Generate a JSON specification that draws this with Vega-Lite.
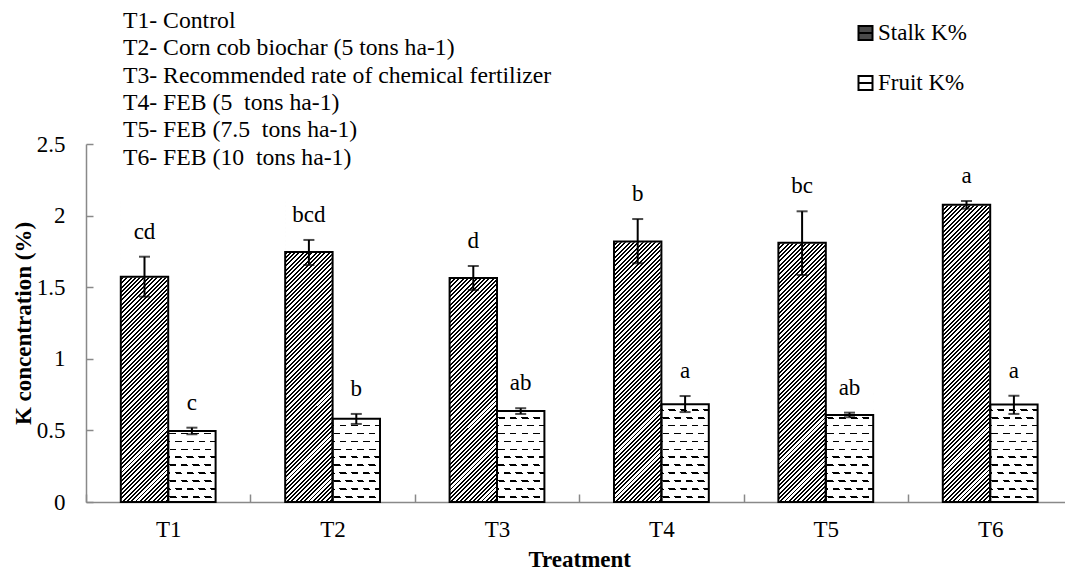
{
"$schema": "https://vega.github.io/schema/vega-lite/v6.json",
"width": 979,
"height": 358,
"autosize": {"type": "none"},
"padding": {"left": 86, "top": 144, "right": 0, "bottom": 70},
"background": "white",
"config": {"view": {"stroke": null}, "font": "Liberation Serif", "axis": {"labelFont": "Liberation Serif", "titleFont": "Liberation Serif"}, "legend": {"labelFont": "Liberation Serif"}},
"title": {"text": ["T1- Control", "T2- Corn cob biochar (5 tons ha-1)", "T3- Recommended rate of chemical fertilizer", "T4- FEB (5\u00a0 tons ha-1)", "T5- FEB (7.5\u00a0 tons ha-1)", "T6- FEB (10\u00a0 tons ha-1)"], "anchor": "start", "frame": "group", "orient": "top", "baseline": "top", "offset": -148, "dx": 37, "font": "Liberation Serif", "fontSize": 23.7, "fontWeight": "normal", "color": "black", "lineHeight": 27.4},
"data": {"values": [
{"t":"T1","s":"Stalk K%","k":1.573,"lo":1.434,"hi":1.713,"lab":"cd"},
{"t":"T1","s":"Fruit K%","k":0.496,"lo":0.473,"hi":0.519,"lab":"c"},
{"t":"T2","s":"Stalk K%","k":1.746,"lo":1.655,"hi":1.830,"lab":"bcd"},
{"t":"T2","s":"Fruit K%","k":0.582,"lo":0.545,"hi":0.615,"lab":"b"},
{"t":"T3","s":"Stalk K%","k":1.564,"lo":1.480,"hi":1.648,"lab":"d"},
{"t":"T3","s":"Fruit K%","k":0.635,"lo":0.615,"hi":0.655,"lab":"ab"},
{"t":"T4","s":"Stalk K%","k":1.820,"lo":1.667,"hi":1.976,"lab":"b"},
{"t":"T4","s":"Fruit K%","k":0.682,"lo":0.628,"hi":0.740,"lab":"a"},
{"t":"T5","s":"Stalk K%","k":1.811,"lo":1.585,"hi":2.030,"lab":"bc"},
{"t":"T5","s":"Fruit K%","k":0.608,"lo":0.592,"hi":0.624,"lab":"ab"},
{"t":"T6","s":"Stalk K%","k":2.076,"lo":2.048,"hi":2.102,"lab":"a"},
{"t":"T6","s":"Fruit K%","k":0.680,"lo":0.615,"hi":0.742,"lab":"a"}
]},
"encoding": {
"x": {"field": "t", "type": "nominal", "sort": ["T1","T2","T3","T4","T5","T6"], "scale": {"domain": ["T1","T2","T3","T4","T5","T6"], "range": [0, 986.4], "paddingInner": 0, "paddingOuter": 0},
 "axis": {"title": "Treatment", "titleFont": "Liberation Serif", "titleFontWeight": "bold", "titleFontSize": 23, "titleColor": "black", "titlePadding": 7, "labelAngle": 0, "labelFont": "Liberation Serif", "labelFontSize": 23, "labelColor": "black", "labelPadding": 24, "tickBand": "extent", "tickSize": -8, "tickColor": "#898989", "tickWidth": 1.5, "domainColor": "#898989", "domainWidth": 1.5}},
"xOffset": {"field": "s", "type": "nominal", "sort": ["Stalk K%","Fruit K%"], "scale": {"domain": ["Stalk K%","Fruit K%"], "paddingInner": 0, "paddingOuter": 0.734}}
},
"layer": [
{"transform": [{"filter": "datum.s === 'Stalk K%'"}],
 "mark": {"type": "bar", "fill": {"gradient": "linear", "x1": 0, "y1": 0, "x2": 0.21995, "y2": 1.39537, "stops": [
{"offset":0,"color":"#000"},{"offset":0.0045,"color":"#000"},{"offset":0.0045,"color":"#fff"},{"offset":0.01,"color":"#fff"},
{"offset":0.01,"color":"#000"},{"offset":0.0145,"color":"#000"},{"offset":0.0145,"color":"#fff"},{"offset":0.02,"color":"#fff"},
{"offset":0.02,"color":"#000"},{"offset":0.0245,"color":"#000"},{"offset":0.0245,"color":"#fff"},{"offset":0.03,"color":"#fff"},
{"offset":0.03,"color":"#000"},{"offset":0.0345,"color":"#000"},{"offset":0.0345,"color":"#fff"},{"offset":0.04,"color":"#fff"},
{"offset":0.04,"color":"#000"},{"offset":0.0445,"color":"#000"},{"offset":0.0445,"color":"#fff"},{"offset":0.05,"color":"#fff"},
{"offset":0.05,"color":"#000"},{"offset":0.0545,"color":"#000"},{"offset":0.0545,"color":"#fff"},{"offset":0.06,"color":"#fff"},
{"offset":0.06,"color":"#000"},{"offset":0.0645,"color":"#000"},{"offset":0.0645,"color":"#fff"},{"offset":0.07,"color":"#fff"},
{"offset":0.07,"color":"#000"},{"offset":0.0745,"color":"#000"},{"offset":0.0745,"color":"#fff"},{"offset":0.08,"color":"#fff"},
{"offset":0.08,"color":"#000"},{"offset":0.0845,"color":"#000"},{"offset":0.0845,"color":"#fff"},{"offset":0.09,"color":"#fff"},
{"offset":0.09,"color":"#000"},{"offset":0.0945,"color":"#000"},{"offset":0.0945,"color":"#fff"},{"offset":0.10,"color":"#fff"},
{"offset":0.10,"color":"#000"},{"offset":0.1045,"color":"#000"},{"offset":0.1045,"color":"#fff"},{"offset":0.11,"color":"#fff"},
{"offset":0.11,"color":"#000"},{"offset":0.1145,"color":"#000"},{"offset":0.1145,"color":"#fff"},{"offset":0.12,"color":"#fff"},
{"offset":0.12,"color":"#000"},{"offset":0.1245,"color":"#000"},{"offset":0.1245,"color":"#fff"},{"offset":0.13,"color":"#fff"},
{"offset":0.13,"color":"#000"},{"offset":0.1345,"color":"#000"},{"offset":0.1345,"color":"#fff"},{"offset":0.14,"color":"#fff"},
{"offset":0.14,"color":"#000"},{"offset":0.1445,"color":"#000"},{"offset":0.1445,"color":"#fff"},{"offset":0.15,"color":"#fff"},
{"offset":0.15,"color":"#000"},{"offset":0.1545,"color":"#000"},{"offset":0.1545,"color":"#fff"},{"offset":0.16,"color":"#fff"},
{"offset":0.16,"color":"#000"},{"offset":0.1645,"color":"#000"},{"offset":0.1645,"color":"#fff"},{"offset":0.17,"color":"#fff"},
{"offset":0.17,"color":"#000"},{"offset":0.1745,"color":"#000"},{"offset":0.1745,"color":"#fff"},{"offset":0.18,"color":"#fff"},
{"offset":0.18,"color":"#000"},{"offset":0.1845,"color":"#000"},{"offset":0.1845,"color":"#fff"},{"offset":0.19,"color":"#fff"},
{"offset":0.19,"color":"#000"},{"offset":0.1945,"color":"#000"},{"offset":0.1945,"color":"#fff"},{"offset":0.20,"color":"#fff"},
{"offset":0.20,"color":"#000"},{"offset":0.2045,"color":"#000"},{"offset":0.2045,"color":"#fff"},{"offset":0.21,"color":"#fff"},
{"offset":0.21,"color":"#000"},{"offset":0.2145,"color":"#000"},{"offset":0.2145,"color":"#fff"},{"offset":0.22,"color":"#fff"},
{"offset":0.22,"color":"#000"},{"offset":0.2245,"color":"#000"},{"offset":0.2245,"color":"#fff"},{"offset":0.23,"color":"#fff"},
{"offset":0.23,"color":"#000"},{"offset":0.2345,"color":"#000"},{"offset":0.2345,"color":"#fff"},{"offset":0.24,"color":"#fff"},
{"offset":0.24,"color":"#000"},{"offset":0.2445,"color":"#000"},{"offset":0.2445,"color":"#fff"},{"offset":0.25,"color":"#fff"},
{"offset":0.25,"color":"#000"},{"offset":0.2545,"color":"#000"},{"offset":0.2545,"color":"#fff"},{"offset":0.26,"color":"#fff"},
{"offset":0.26,"color":"#000"},{"offset":0.2645,"color":"#000"},{"offset":0.2645,"color":"#fff"},{"offset":0.27,"color":"#fff"},
{"offset":0.27,"color":"#000"},{"offset":0.2745,"color":"#000"},{"offset":0.2745,"color":"#fff"},{"offset":0.28,"color":"#fff"},
{"offset":0.28,"color":"#000"},{"offset":0.2845,"color":"#000"},{"offset":0.2845,"color":"#fff"},{"offset":0.29,"color":"#fff"},
{"offset":0.29,"color":"#000"},{"offset":0.2945,"color":"#000"},{"offset":0.2945,"color":"#fff"},{"offset":0.30,"color":"#fff"},
{"offset":0.30,"color":"#000"},{"offset":0.3045,"color":"#000"},{"offset":0.3045,"color":"#fff"},{"offset":0.31,"color":"#fff"},
{"offset":0.31,"color":"#000"},{"offset":0.3145,"color":"#000"},{"offset":0.3145,"color":"#fff"},{"offset":0.32,"color":"#fff"},
{"offset":0.32,"color":"#000"},{"offset":0.3245,"color":"#000"},{"offset":0.3245,"color":"#fff"},{"offset":0.33,"color":"#fff"},
{"offset":0.33,"color":"#000"},{"offset":0.3345,"color":"#000"},{"offset":0.3345,"color":"#fff"},{"offset":0.34,"color":"#fff"},
{"offset":0.34,"color":"#000"},{"offset":0.3445,"color":"#000"},{"offset":0.3445,"color":"#fff"},{"offset":0.35,"color":"#fff"},
{"offset":0.35,"color":"#000"},{"offset":0.3545,"color":"#000"},{"offset":0.3545,"color":"#fff"},{"offset":0.36,"color":"#fff"},
{"offset":0.36,"color":"#000"},{"offset":0.3645,"color":"#000"},{"offset":0.3645,"color":"#fff"},{"offset":0.37,"color":"#fff"},
{"offset":0.37,"color":"#000"},{"offset":0.3745,"color":"#000"},{"offset":0.3745,"color":"#fff"},{"offset":0.38,"color":"#fff"},
{"offset":0.38,"color":"#000"},{"offset":0.3845,"color":"#000"},{"offset":0.3845,"color":"#fff"},{"offset":0.39,"color":"#fff"},
{"offset":0.39,"color":"#000"},{"offset":0.3945,"color":"#000"},{"offset":0.3945,"color":"#fff"},{"offset":0.40,"color":"#fff"},
{"offset":0.40,"color":"#000"},{"offset":0.4045,"color":"#000"},{"offset":0.4045,"color":"#fff"},{"offset":0.41,"color":"#fff"},
{"offset":0.41,"color":"#000"},{"offset":0.4145,"color":"#000"},{"offset":0.4145,"color":"#fff"},{"offset":0.42,"color":"#fff"},
{"offset":0.42,"color":"#000"},{"offset":0.4245,"color":"#000"},{"offset":0.4245,"color":"#fff"},{"offset":0.43,"color":"#fff"},
{"offset":0.43,"color":"#000"},{"offset":0.4345,"color":"#000"},{"offset":0.4345,"color":"#fff"},{"offset":0.44,"color":"#fff"},
{"offset":0.44,"color":"#000"},{"offset":0.4445,"color":"#000"},{"offset":0.4445,"color":"#fff"},{"offset":0.45,"color":"#fff"},
{"offset":0.45,"color":"#000"},{"offset":0.4545,"color":"#000"},{"offset":0.4545,"color":"#fff"},{"offset":0.46,"color":"#fff"},
{"offset":0.46,"color":"#000"},{"offset":0.4645,"color":"#000"},{"offset":0.4645,"color":"#fff"},{"offset":0.47,"color":"#fff"},
{"offset":0.47,"color":"#000"},{"offset":0.4745,"color":"#000"},{"offset":0.4745,"color":"#fff"},{"offset":0.48,"color":"#fff"},
{"offset":0.48,"color":"#000"},{"offset":0.4845,"color":"#000"},{"offset":0.4845,"color":"#fff"},{"offset":0.49,"color":"#fff"},
{"offset":0.49,"color":"#000"},{"offset":0.4945,"color":"#000"},{"offset":0.4945,"color":"#fff"},{"offset":0.50,"color":"#fff"},
{"offset":0.50,"color":"#000"},{"offset":0.5045,"color":"#000"},{"offset":0.5045,"color":"#fff"},{"offset":0.51,"color":"#fff"},
{"offset":0.51,"color":"#000"},{"offset":0.5145,"color":"#000"},{"offset":0.5145,"color":"#fff"},{"offset":0.52,"color":"#fff"},
{"offset":0.52,"color":"#000"},{"offset":0.5245,"color":"#000"},{"offset":0.5245,"color":"#fff"},{"offset":0.53,"color":"#fff"},
{"offset":0.53,"color":"#000"},{"offset":0.5345,"color":"#000"},{"offset":0.5345,"color":"#fff"},{"offset":0.54,"color":"#fff"},
{"offset":0.54,"color":"#000"},{"offset":0.5445,"color":"#000"},{"offset":0.5445,"color":"#fff"},{"offset":0.55,"color":"#fff"},
{"offset":0.55,"color":"#000"},{"offset":0.5545,"color":"#000"},{"offset":0.5545,"color":"#fff"},{"offset":0.56,"color":"#fff"},
{"offset":0.56,"color":"#000"},{"offset":0.5645,"color":"#000"},{"offset":0.5645,"color":"#fff"},{"offset":0.57,"color":"#fff"},
{"offset":0.57,"color":"#000"},{"offset":0.5745,"color":"#000"},{"offset":0.5745,"color":"#fff"},{"offset":0.58,"color":"#fff"},
{"offset":0.58,"color":"#000"},{"offset":0.5845,"color":"#000"},{"offset":0.5845,"color":"#fff"},{"offset":0.59,"color":"#fff"},
{"offset":0.59,"color":"#000"},{"offset":0.5945,"color":"#000"},{"offset":0.5945,"color":"#fff"},{"offset":0.60,"color":"#fff"},
{"offset":0.60,"color":"#000"},{"offset":0.6045,"color":"#000"},{"offset":0.6045,"color":"#fff"},{"offset":0.61,"color":"#fff"},
{"offset":0.61,"color":"#000"},{"offset":0.6145,"color":"#000"},{"offset":0.6145,"color":"#fff"},{"offset":0.62,"color":"#fff"},
{"offset":0.62,"color":"#000"},{"offset":0.6245,"color":"#000"},{"offset":0.6245,"color":"#fff"},{"offset":0.63,"color":"#fff"},
{"offset":0.63,"color":"#000"},{"offset":0.6345,"color":"#000"},{"offset":0.6345,"color":"#fff"},{"offset":0.64,"color":"#fff"},
{"offset":0.64,"color":"#000"},{"offset":0.6445,"color":"#000"},{"offset":0.6445,"color":"#fff"},{"offset":0.65,"color":"#fff"},
{"offset":0.65,"color":"#000"},{"offset":0.6545,"color":"#000"},{"offset":0.6545,"color":"#fff"},{"offset":0.66,"color":"#fff"},
{"offset":0.66,"color":"#000"},{"offset":0.6645,"color":"#000"},{"offset":0.6645,"color":"#fff"},{"offset":0.67,"color":"#fff"},
{"offset":0.67,"color":"#000"},{"offset":0.6745,"color":"#000"},{"offset":0.6745,"color":"#fff"},{"offset":0.68,"color":"#fff"},
{"offset":0.68,"color":"#000"},{"offset":0.6845,"color":"#000"},{"offset":0.6845,"color":"#fff"},{"offset":0.69,"color":"#fff"},
{"offset":0.69,"color":"#000"},{"offset":0.6945,"color":"#000"},{"offset":0.6945,"color":"#fff"},{"offset":0.70,"color":"#fff"},
{"offset":0.70,"color":"#000"},{"offset":0.7045,"color":"#000"},{"offset":0.7045,"color":"#fff"},{"offset":0.71,"color":"#fff"},
{"offset":0.71,"color":"#000"},{"offset":0.7145,"color":"#000"},{"offset":0.7145,"color":"#fff"},{"offset":0.72,"color":"#fff"},
{"offset":0.72,"color":"#000"},{"offset":0.7245,"color":"#000"},{"offset":0.7245,"color":"#fff"},{"offset":0.73,"color":"#fff"},
{"offset":0.73,"color":"#000"},{"offset":0.7345,"color":"#000"},{"offset":0.7345,"color":"#fff"},{"offset":0.74,"color":"#fff"},
{"offset":0.74,"color":"#000"},{"offset":0.7445,"color":"#000"},{"offset":0.7445,"color":"#fff"},{"offset":0.75,"color":"#fff"},
{"offset":0.75,"color":"#000"},{"offset":0.7545,"color":"#000"},{"offset":0.7545,"color":"#fff"},{"offset":0.76,"color":"#fff"},
{"offset":0.76,"color":"#000"},{"offset":0.7645,"color":"#000"},{"offset":0.7645,"color":"#fff"},{"offset":0.77,"color":"#fff"},
{"offset":0.77,"color":"#000"},{"offset":0.7745,"color":"#000"},{"offset":0.7745,"color":"#fff"},{"offset":0.78,"color":"#fff"},
{"offset":0.78,"color":"#000"},{"offset":0.7845,"color":"#000"},{"offset":0.7845,"color":"#fff"},{"offset":0.79,"color":"#fff"},
{"offset":0.79,"color":"#000"},{"offset":0.7945,"color":"#000"},{"offset":0.7945,"color":"#fff"},{"offset":0.80,"color":"#fff"},
{"offset":0.80,"color":"#000"},{"offset":0.8045,"color":"#000"},{"offset":0.8045,"color":"#fff"},{"offset":0.81,"color":"#fff"}
]}},
 "encoding": {"y": {"datum": 2.1, "type": "quantitative", "scale": {"domain": [0, 2.5], "nice": false},
   "axis": {"title": "K concentration (%)", "titleFont": "Liberation Serif", "titleFontWeight": "bold", "titleFontSize": 23, "titleColor": "black", "titlePadding": 1, "values": [0, 0.5, 1, 1.5, 2, 2.5], "format": "~g", "labelFont": "Liberation Serif", "labelFontSize": 23, "labelColor": "black", "labelPadding": 28, "tickSize": -7, "tickColor": "#898989", "tickWidth": 1.5, "domainColor": "#898989", "domainWidth": 1.5, "grid": false}},
  "y2": {"datum": 0}}},
{"transform": [{"filter": "datum.s === 'Fruit K%'"}],
 "mark": {"type": "bar", "fill": {"gradient": "linear", "x1": 0, "y1": 0, "x2": 0, "y2": 1.3787, "stops": [
{"offset":0.037,"color":"#fff"},{"offset":0.037,"color":"#000"},{"offset":0.047,"color":"#000"},{"offset":0.047,"color":"#fff"},
{"offset":0.087,"color":"#fff"},{"offset":0.087,"color":"#000"},{"offset":0.097,"color":"#000"},{"offset":0.097,"color":"#fff"},
{"offset":0.137,"color":"#fff"},{"offset":0.137,"color":"#000"},{"offset":0.147,"color":"#000"},{"offset":0.147,"color":"#fff"},
{"offset":0.187,"color":"#fff"},{"offset":0.187,"color":"#000"},{"offset":0.197,"color":"#000"},{"offset":0.197,"color":"#fff"},
{"offset":0.237,"color":"#fff"},{"offset":0.237,"color":"#000"},{"offset":0.247,"color":"#000"},{"offset":0.247,"color":"#fff"},
{"offset":0.287,"color":"#fff"},{"offset":0.287,"color":"#000"},{"offset":0.297,"color":"#000"},{"offset":0.297,"color":"#fff"},
{"offset":0.337,"color":"#fff"},{"offset":0.337,"color":"#000"},{"offset":0.347,"color":"#000"},{"offset":0.347,"color":"#fff"},
{"offset":0.387,"color":"#fff"},{"offset":0.387,"color":"#000"},{"offset":0.397,"color":"#000"},{"offset":0.397,"color":"#fff"},
{"offset":0.437,"color":"#fff"},{"offset":0.437,"color":"#000"},{"offset":0.447,"color":"#000"},{"offset":0.447,"color":"#fff"},
{"offset":0.487,"color":"#fff"},{"offset":0.487,"color":"#000"},{"offset":0.497,"color":"#000"},{"offset":0.497,"color":"#fff"},
{"offset":0.537,"color":"#fff"},{"offset":0.537,"color":"#000"},{"offset":0.547,"color":"#000"},{"offset":0.547,"color":"#fff"},
{"offset":0.587,"color":"#fff"},{"offset":0.587,"color":"#000"},{"offset":0.597,"color":"#000"},{"offset":0.597,"color":"#fff"},
{"offset":0.637,"color":"#fff"},{"offset":0.637,"color":"#000"},{"offset":0.647,"color":"#000"},{"offset":0.647,"color":"#fff"},
{"offset":0.687,"color":"#fff"},{"offset":0.687,"color":"#000"},{"offset":0.697,"color":"#000"},{"offset":0.697,"color":"#fff"}
]}},
 "encoding": {"y": {"datum": 0.8, "type": "quantitative"}, "y2": {"datum": 0}}},
{"transform": [{"filter": "datum.s === 'Fruit K%'"}],
 "mark": {"type": "bar", "fill": {"gradient": "linear", "x1": 0, "y1": 1, "x2": 0.7338, "y2": -0.3137, "stops": [
{"offset":0,"color":"#fff"},{"offset":0.035,"color":"#fff"},{"offset":0.035,"color":"rgba(255,255,255,0)"},{"offset":0.08,"color":"rgba(255,255,255,0)"},
{"offset":0.08,"color":"#fff"},{"offset":0.115,"color":"#fff"},{"offset":0.115,"color":"rgba(255,255,255,0)"},{"offset":0.16,"color":"rgba(255,255,255,0)"},
{"offset":0.16,"color":"#fff"},{"offset":0.195,"color":"#fff"},{"offset":0.195,"color":"rgba(255,255,255,0)"},{"offset":0.24,"color":"rgba(255,255,255,0)"},
{"offset":0.24,"color":"#fff"},{"offset":0.275,"color":"#fff"},{"offset":0.275,"color":"rgba(255,255,255,0)"},{"offset":0.32,"color":"rgba(255,255,255,0)"},
{"offset":0.32,"color":"#fff"},{"offset":0.355,"color":"#fff"},{"offset":0.355,"color":"rgba(255,255,255,0)"},{"offset":0.40,"color":"rgba(255,255,255,0)"},
{"offset":0.40,"color":"#fff"},{"offset":0.435,"color":"#fff"},{"offset":0.435,"color":"rgba(255,255,255,0)"},{"offset":0.48,"color":"rgba(255,255,255,0)"},
{"offset":0.48,"color":"#fff"},{"offset":0.515,"color":"#fff"},{"offset":0.515,"color":"rgba(255,255,255,0)"},{"offset":0.56,"color":"rgba(255,255,255,0)"},
{"offset":0.56,"color":"#fff"},{"offset":0.595,"color":"#fff"},{"offset":0.595,"color":"rgba(255,255,255,0)"},{"offset":0.64,"color":"rgba(255,255,255,0)"},
{"offset":0.64,"color":"#fff"},{"offset":0.675,"color":"#fff"},{"offset":0.675,"color":"rgba(255,255,255,0)"},{"offset":0.72,"color":"rgba(255,255,255,0)"},
{"offset":0.72,"color":"#fff"},{"offset":0.755,"color":"#fff"},{"offset":0.755,"color":"rgba(255,255,255,0)"},{"offset":0.80,"color":"rgba(255,255,255,0)"},
{"offset":0.80,"color":"#fff"},{"offset":0.835,"color":"#fff"},{"offset":0.835,"color":"rgba(255,255,255,0)"},{"offset":0.88,"color":"rgba(255,255,255,0)"},
{"offset":0.88,"color":"#fff"},{"offset":0.915,"color":"#fff"},{"offset":0.915,"color":"rgba(255,255,255,0)"},{"offset":0.96,"color":"rgba(255,255,255,0)"}
]}},
 "encoding": {"y": {"datum": 0.8, "type": "quantitative"}, "y2": {"datum": 0}}},
{"mark": {"type": "bar", "fill": "white", "stroke": "white", "strokeWidth": 1.5},
 "encoding": {"y": {"field": "k", "type": "quantitative"}, "y2": {"datum": 2.5}}},
{"mark": {"type": "bar", "stroke": "black", "strokeWidth": 2},
 "encoding": {"y": {"field": "k", "type": "quantitative"}, "y2": {"datum": 0},
  "fillOpacity": {"value": 0},
  "fill": {"field": "s", "type": "nominal", "scale": {"domain": ["Stalk K%", "Fruit K%"], "range": ["#4a4a4a", "white"]},
   "legend": {"orient": "none", "legendX": 768, "legendY": -122.5, "title": null, "padding": 0, "symbolType": "M-1,-1H1V1H-1ZM-1,0H1", "symbolSize": 196, "symbolStrokeWidth": 2, "symbolStrokeColor": "black", "symbolOpacity": 1, "symbolFillOpacity": 1, "labelFont": "Liberation Serif", "labelFontSize": 23, "labelColor": "black", "labelOffset": 1, "rowPadding": 26, "labelLimit": 300}}}},
{"mark": {"type": "rule", "color": "black", "strokeWidth": 2},
 "encoding": {"y": {"field": "lo", "type": "quantitative"}, "y2": {"field": "hi"}}},
{"mark": {"type": "tick", "color": "black", "size": 11, "thickness": 2, "orient": "horizontal"},
 "encoding": {"y": {"field": "hi", "type": "quantitative"}}},
{"mark": {"type": "tick", "color": "black", "size": 11, "thickness": 2, "orient": "horizontal"},
 "encoding": {"y": {"field": "lo", "type": "quantitative"}}},
{"mark": {"type": "text", "font": "Liberation Serif", "fontSize": 23, "color": "black", "baseline": "alphabetic", "align": "center", "dy": -18},
 "encoding": {"y": {"field": "hi", "type": "quantitative"}, "text": {"field": "lab"}}}
]
}
